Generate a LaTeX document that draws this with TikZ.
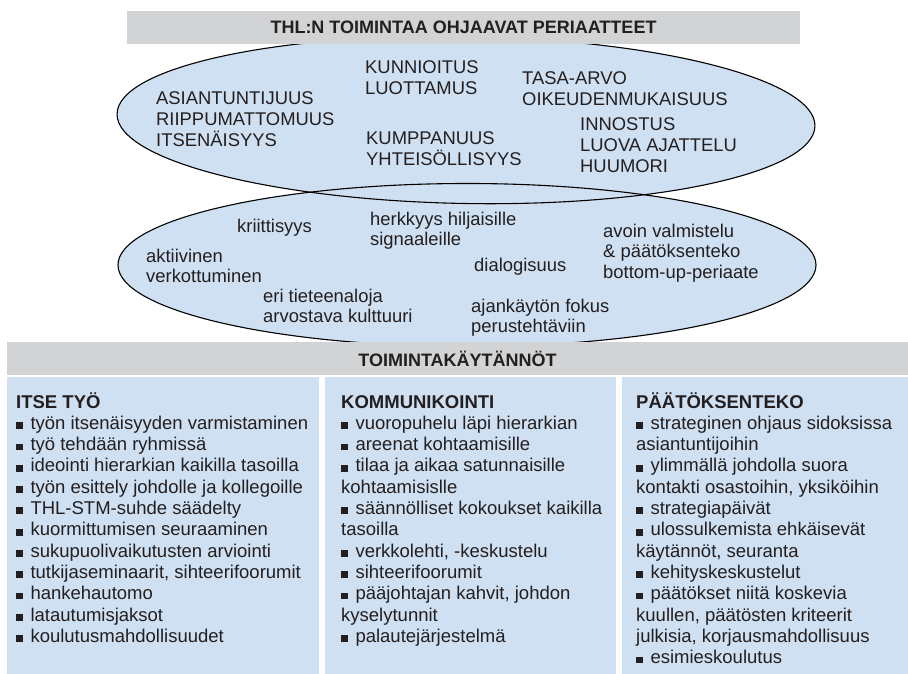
\documentclass[tikz,border=0pt]{standalone}
\usepackage{fontspec}
\setmainfont{Liberation Sans}
\definecolor{lblue}{HTML}{CFE0F2}
\definecolor{bargray}{HTML}{D2D3D5}
\definecolor{ink}{HTML}{231F20}
\newcommand{\bul}{\rule[0.3pt]{6.8pt}{6.8pt}\hspace{7.5pt}}
\newcommand{\ml}[1]{\vtop{\lineskiplimit=-100pt\lineskip=0pt\halign{##\hfil\cr#1\crcr}}}
\begin{document}
\begin{tikzpicture}[x=1pt,y=-1pt,
  etxt/.style={anchor=base west, inner sep=0pt, text=ink, font=\fontsize{18.4}{20.6}\selectfont},
  ctxt/.style={anchor=base west, inner sep=0pt, text=ink, font=\fontsize{18.5}{21.3}\selectfont},
  bar/.style={fill=bargray, draw=none, inner sep=0pt, text=ink, font=\fontsize{18}{20}\selectfont\bfseries},
  col/.style={fill=lblue, draw=none, inner sep=0pt, anchor=north west, minimum height=297pt},
  eline/.style={draw=black, line width=1.1pt}
]
\useasboundingbox (0,0) rectangle (908,674);
\fill[white] (0,0) rectangle (908,674);
% ellipses
\coordinate (uc) at (466,120);
\coordinate (lc) at (467,265);
\fill[lblue, rotate around={-1:(uc)}] (uc) ellipse [x radius=349, y radius=83.5];
\fill[lblue] (lc) ellipse [x radius=349, y radius=81.5];
\draw[eline, rotate around={-1:(uc)}] (uc) ellipse [x radius=349, y radius=83.5];
\draw[eline] (lc) ellipse [x radius=349, y radius=81.5];
% bars
\node[bar, minimum width=673pt, minimum height=33pt] (topbar) at (463.5,27.5) {THL:N TOIMINTAA OHJAAVAT PERIAATTEET};
\node[bar, minimum width=901pt, minimum height=33pt] (midbar) at (457.5,358.5) {TOIMINTAKÄYTÄNNÖT};
% columns
\node[col, minimum width=312pt] (col1) at (7,377) {};
\node[col, minimum width=291pt] (col2) at (325,377) {};
\node[col, minimum width=286pt] (col3) at (622,377) {};
% upper ellipse texts
\node[etxt] (u1) at (365,74) {\ml{KUNNIOITUS\cr LUOTTAMUS}};
\node[etxt] (u2) at (522,85) {\ml{TASA-ARVO\cr OIKEUDENMUKAISUUS}};
\node[etxt] (u3) at (156,105) {\ml{ASIANTUNTIJUUS\cr RIIPPUMATTOMUUS\cr ITSENÄISYYS}};
\node[etxt] (u4) at (366,145) {\ml{KUMPPANUUS\cr YHTEISÖLLISYYS}};
\node[etxt] (u5) at (580,131) {\ml{INNOSTUS\cr LUOVA AJATTELU\cr HUUMORI}};
% lower ellipse texts
\node[etxt] (l1) at (237,232) {kriittisyys};
\node[etxt] (l2) at (370,225) {\ml{herkkyys hiljaisille\cr signaaleille}};
\node[etxt] (l3) at (603,237) {\ml{avoin valmistelu\cr \& päätöksenteko\cr bottom-up-periaate}};
\node[etxt] (l4) at (146,262) {\ml{aktiivinen\cr verkottuminen}};
\node[etxt] (l5) at (474,271) {dialogisuus};
\node[etxt] (l6) at (263,302) {\ml{eri tieteenaloja\cr arvostava kulttuuri}};
\node[etxt] (l7) at (471,312) {\ml{ajankäytön fokus\cr perustehtäviin}};
% column texts
\node[ctxt] (c1) at (16,408) {\ml{\textbf{ITSE TYÖ}\cr
\bul työn itsenäisyyden varmistaminen\cr
\bul työ tehdään ryhmissä\cr
\bul ideointi hierarkian kaikilla tasoilla\cr
\bul työn esittely johdolle ja kollegoille\cr
\bul THL-STM-suhde säädelty\cr
\bul kuormittumisen seuraaminen\cr
\bul sukupuolivaikutusten arviointi\cr
\bul tutkijaseminaarit, sihteerifoorumit\cr
\bul hankehautomo\cr
\bul latautumisjaksot\cr
\bul koulutusmahdollisuudet}};
\node[ctxt] (c2) at (341,408) {\ml{\textbf{KOMMUNIKOINTI}\cr
\bul vuoropuhelu läpi hierarkian\cr
\bul areenat kohtaamisille\cr
\bul tilaa ja aikaa satunnaisille\cr
kohtaamisislle\cr
\bul säännölliset kokoukset kaikilla\cr
tasoilla\cr
\bul verkkolehti, -keskustelu\cr
\bul sihteerifoorumit\cr
\bul pääjohtajan kahvit, johdon\cr
kyselytunnit\cr
\bul palautejärjestelmä}};
\node[ctxt] (c3) at (636,408) {\ml{\textbf{PÄÄTÖKSENTEKO}\cr
\bul strateginen ohjaus sidoksissa\cr
asiantuntijoihin\cr
\bul ylimmällä johdolla suora\cr
kontakti osastoihin, yksiköihin\cr
\bul strategiapäivät\cr
\bul ulossulkemista ehkäisevät\cr
käytännöt, seuranta\cr
\bul kehityskeskustelut\cr
\bul päätökset niitä koskevia\cr
kuullen, päätösten kriteerit\cr
julkisia, korjausmahdollisuus\cr
\bul esimieskoulutus}};
\end{tikzpicture}
\end{document}
